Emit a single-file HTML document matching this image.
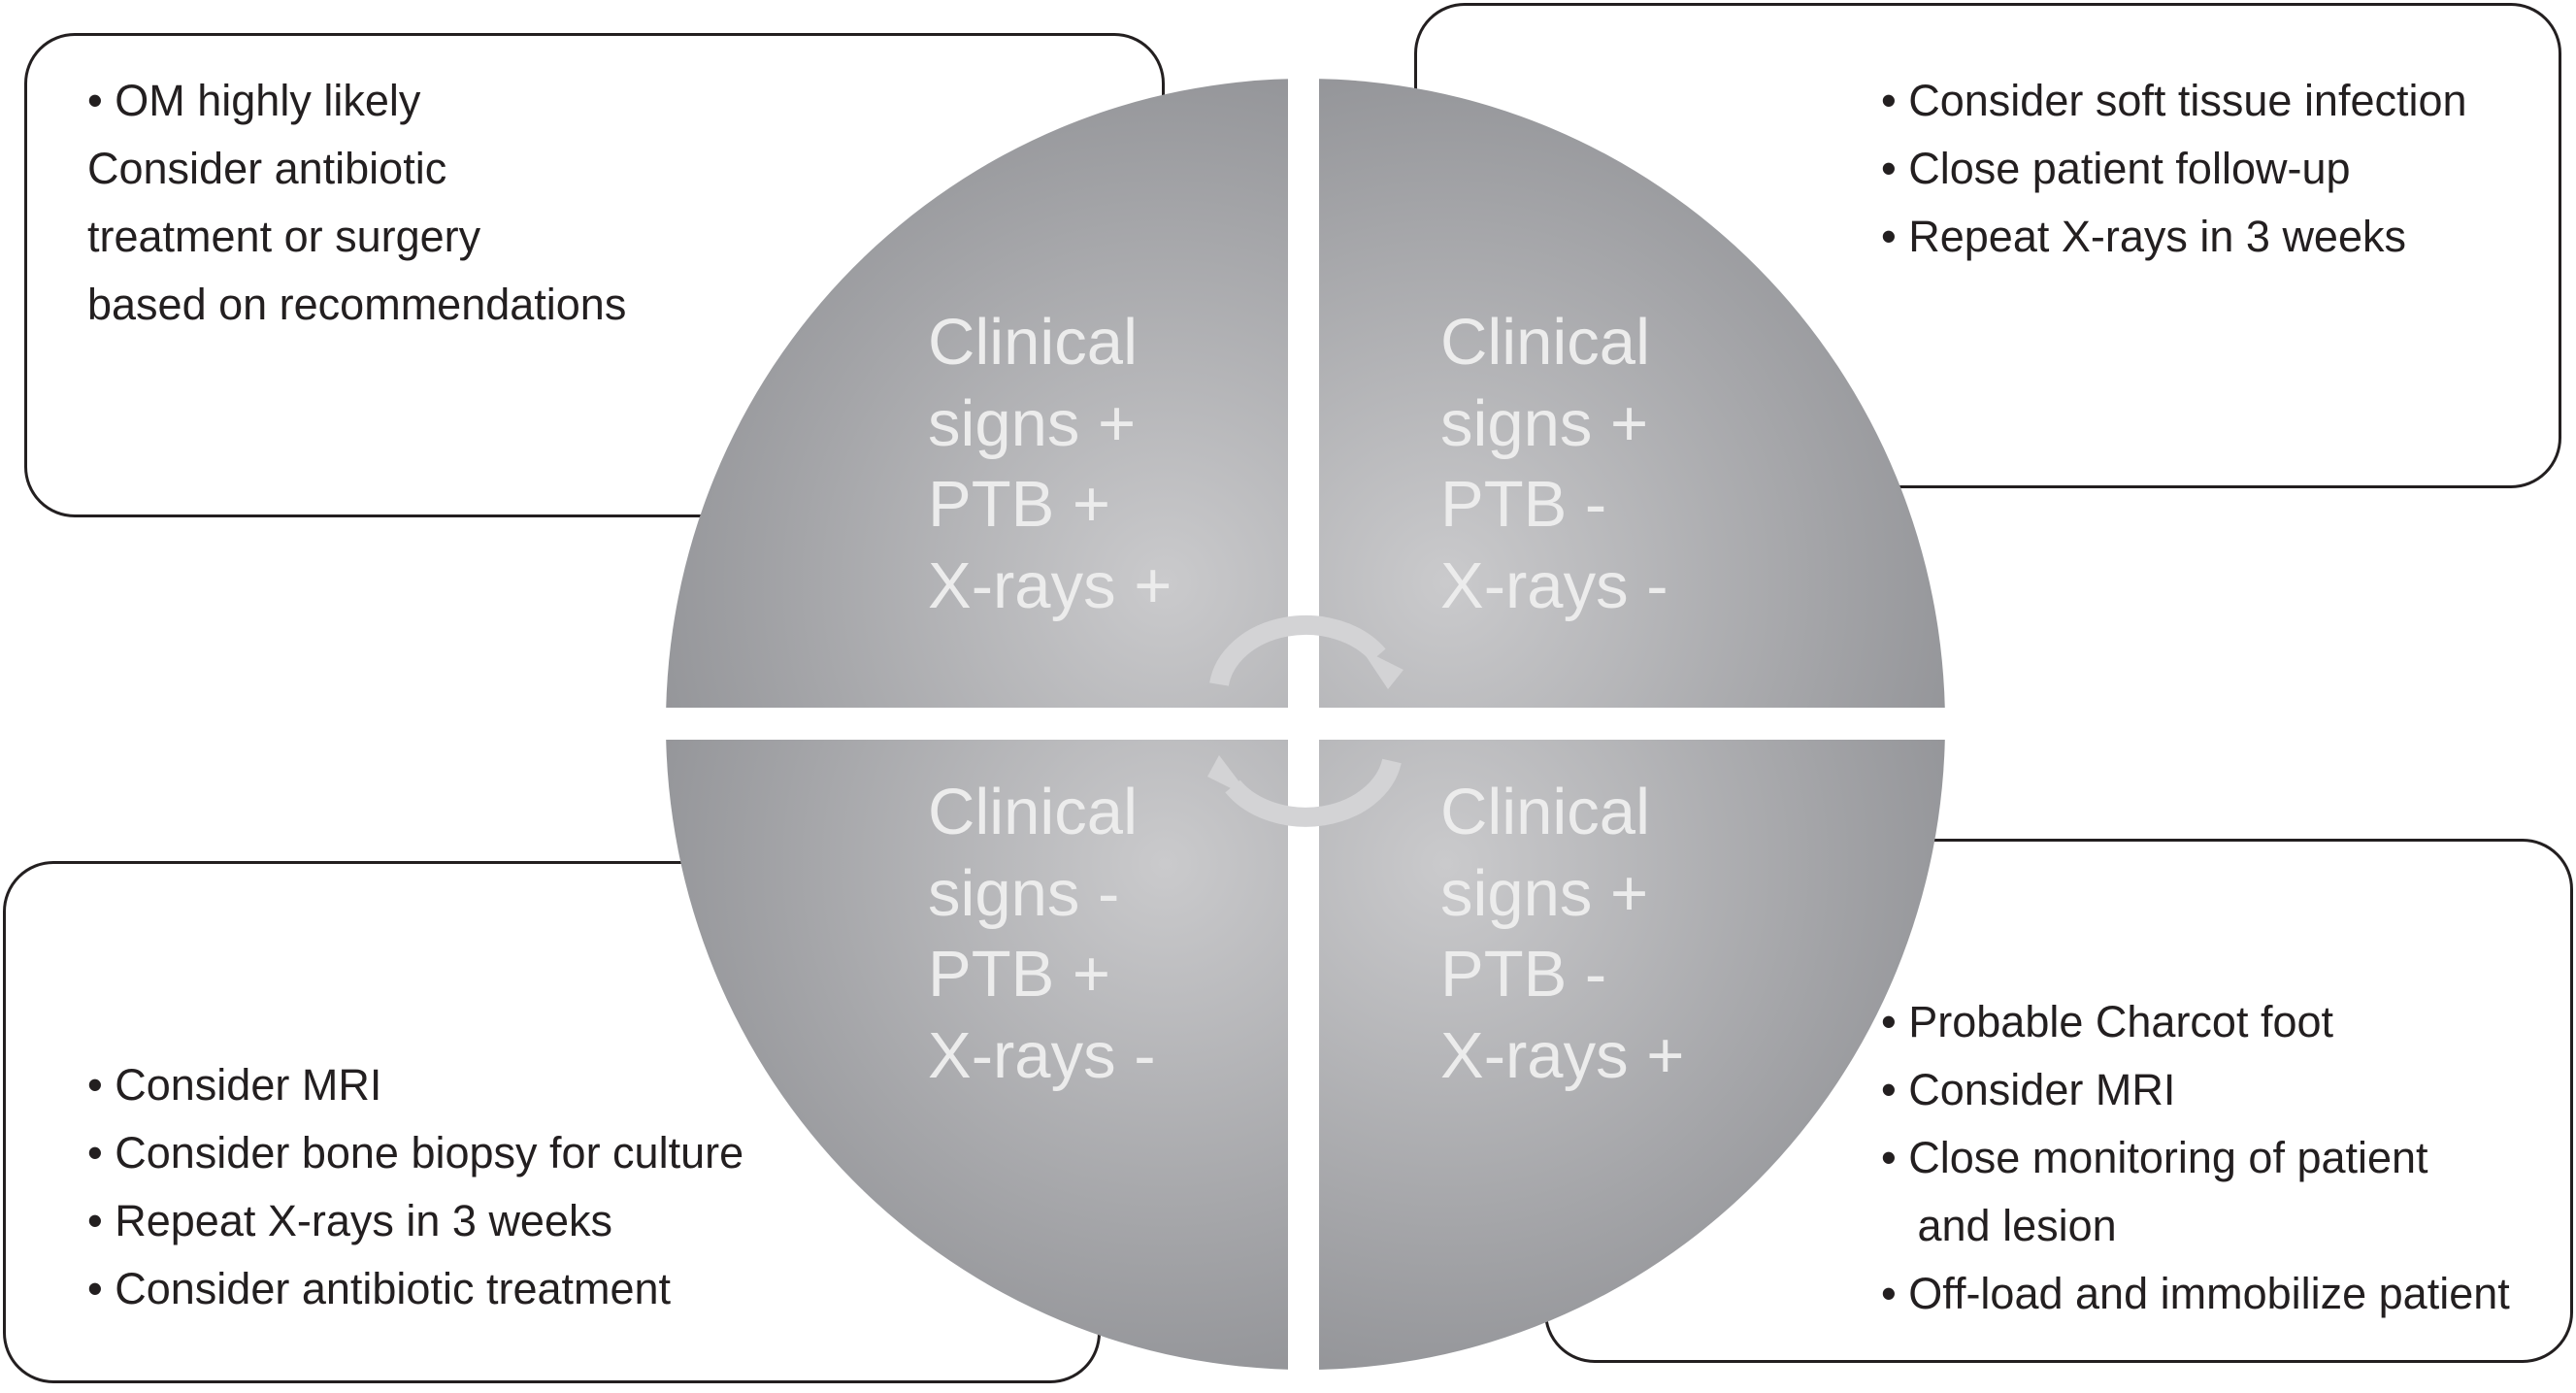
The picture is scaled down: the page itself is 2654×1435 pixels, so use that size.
<!DOCTYPE html>
<html><head><meta charset="utf-8"><style>
body{margin:0;width:2654px;height:1435px;background:#fff;position:relative;overflow:hidden;font-family:"Liberation Sans",Arial,sans-serif}
.box{position:absolute;border:3px solid #231f20;border-radius:52px;background:#fff;box-sizing:border-box}
.t{position:absolute;font-size:45px;color:#231f20;line-height:70px;white-space:pre}
.c{position:absolute;font-size:67px;color:#ececec;line-height:83.5px;white-space:pre}
svg{position:absolute;left:0;top:0}
</style></head><body>
<div class="box" style="left:25px;top:34px;width:1175px;height:499px"></div>
<div class="box" style="left:1457px;top:3px;width:1182px;height:500px"></div>
<div class="box" style="left:3px;top:887px;width:1131px;height:538px"></div>
<div class="box" style="left:1591px;top:864px;width:1060px;height:540px"></div>
<svg width="2654" height="1435">
<defs>
<radialGradient id="g1" gradientUnits="userSpaceOnUse" cx="1200" cy="600" r="560"><stop offset="0" stop-color="#cacacc"/><stop offset="1" stop-color="#929397"/></radialGradient>
<radialGradient id="g2" gradientUnits="userSpaceOnUse" cx="1490" cy="600" r="560"><stop offset="0" stop-color="#cacacc"/><stop offset="1" stop-color="#929397"/></radialGradient>
<radialGradient id="g3" gradientUnits="userSpaceOnUse" cx="1200" cy="890" r="560"><stop offset="0" stop-color="#cacacc"/><stop offset="1" stop-color="#929397"/></radialGradient>
<radialGradient id="g4" gradientUnits="userSpaceOnUse" cx="1490" cy="890" r="560"><stop offset="0" stop-color="#cacacc"/><stop offset="1" stop-color="#929397"/></radialGradient>
<clipPath id="cc"><ellipse cx="1345" cy="746" rx="659" ry="665"/></clipPath>
</defs>
<g clip-path="url(#cc)">
<rect x="680" y="70" width="647" height="659" fill="url(#g1)"/>
<rect x="1359" y="70" width="660" height="659" fill="url(#g2)"/>
<rect x="680" y="762" width="647" height="660" fill="url(#g3)"/>
<rect x="1359" y="762" width="660" height="660" fill="url(#g4)"/>
</g>
<path d="M1256 705 A90 70 0 0 1 1420 675" fill="none" stroke="#d3d3d5" stroke-width="20"/>
<polygon points="1402,668 1446,690 1430,710" fill="#d3d3d5"/>
<path d="M1434 784 A90 70 0 0 1 1270 810" fill="none" stroke="#d3d3d5" stroke-width="20"/>
<polygon points="1290,823 1244,800 1256,778" fill="#d3d3d5"/>
</svg>
<div class="t" style="left:90px;top:69px">• OM highly likely
Consider antibiotic
treatment or surgery
based on recommendations</div>
<div class="t" style="left:1938px;top:69px">• Consider soft tissue infection
• Close patient follow-up
• Repeat X-rays in 3 weeks</div>
<div class="t" style="left:90px;top:1083px">• Consider MRI
• Consider bone biopsy for culture
• Repeat X-rays in 3 weeks
• Consider antibiotic treatment</div>
<div class="t" style="left:1938px;top:1018px">• Probable Charcot foot
• Consider MRI
• Close monitoring of patient
   and lesion
• Off-load and immobilize patient</div>
<div class="c" style="left:956px;top:311px">Clinical
signs +
PTB +
X-rays +</div>
<div class="c" style="left:1484px;top:311px">Clinical
signs +
PTB -
X-rays -</div>
<div class="c" style="left:956px;top:795px">Clinical
signs -
PTB +
X-rays -</div>
<div class="c" style="left:1484px;top:795px">Clinical
signs +
PTB -
X-rays +</div>
</body></html>
